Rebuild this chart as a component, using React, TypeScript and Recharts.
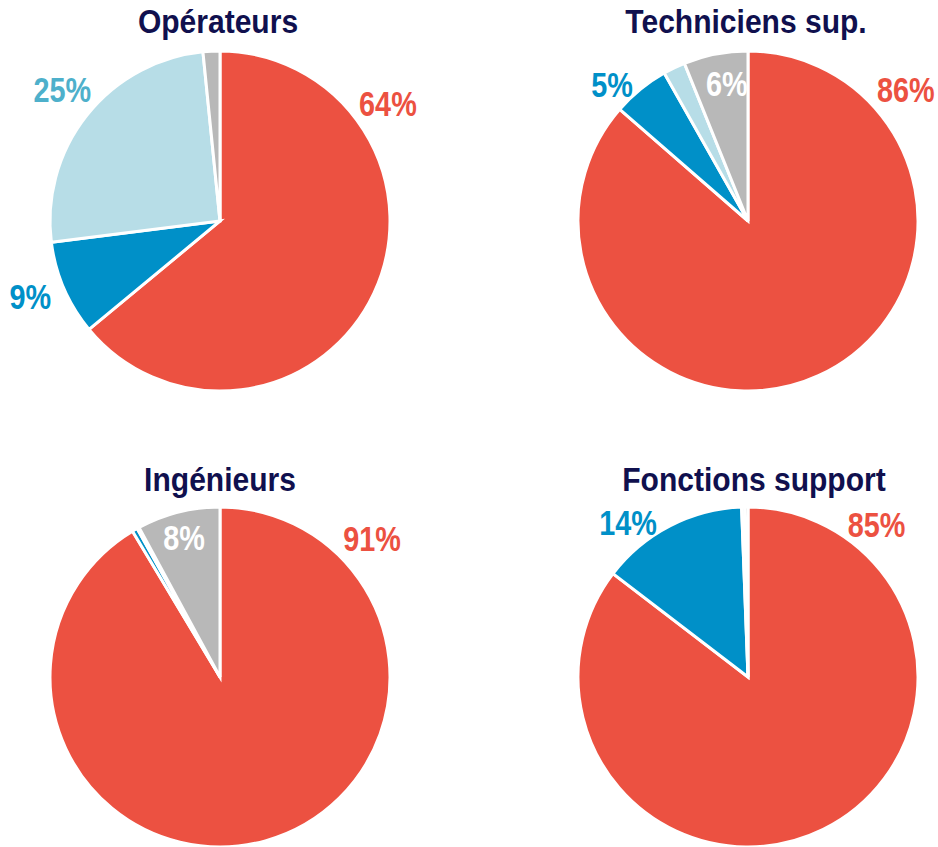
import React from "react";
import { PieChart, Pie, Cell } from "recharts";

const PANEL_TITLES = ["Opérateurs", "Techniciens sup.", "Ingénieurs", "Fonctions support"];
const CATEGORIES = ["Catégorie 1", "Catégorie 2", "Catégorie 3", "Catégorie 4"];
const OPERATEURS = [64, 9, 25.4, 1.6];
const TECHNICIENS = [86.4, 5.4, 2.1, 6.1];
const INGENIEURS = [91.4, 0.5, 0.2, 7.9];
const FONCTIONS = [85.4, 14.0, 0.3, 0.3];

const COLORS = ["#EC5141", "#0090C8", "#B7DDE7", "#B8B8B8"];
const LABEL_COLORS = ["#EC5141", "#0090C8", "#4EB0CB", "#FFFFFF"];
const FONT = "'Liberation Sans', Arial, 'Noto Sans', sans-serif";

// label placement (angle in degrees, radius) per visible label
type LabelPos = { i: number; a: number; r: number };
const LABEL_LAYOUT: LabelPos[][] = [
  [{ i: 0, a: 35, r: 205 }, { i: 1, a: 201.5, r: 204 }, { i: 2, a: 140, r: 206 }],
  [{ i: 0, a: 40, r: 206 }, { i: 1, a: 134.8, r: 193 }, { i: 3, a: 98.7, r: 140 }],
  [{ i: 0, a: 42.4, r: 206 }, { i: 3, a: 104.4, r: 145 }],
  [{ i: 0, a: 50, r: 200 }, { i: 1, a: 127.7, r: 196 }],
];

const PANEL_CENTERS = [
  { cx: 220, cy: 221 },
  { cx: 748, cy: 221 },
  { cx: 220, cy: 677 },
  { cx: 748, cy: 677 },
];
const TITLE_POS = [
  { x: 218, y: 33 },
  { x: 746, y: 33 },
  { x: 220, y: 491 },
  { x: 754, y: 491 },
];

const SERIES = [OPERATEURS, TECHNICIENS, INGENIEURS, FONCTIONS];

function makeData(values: number[]) {
  return values.map((v, i) => ({ name: CATEGORIES[i], value: v }));
}

function makeLabel(panel: number) {
  return (props: any) => {
    const { cx, cy, index, value } = props;
    const pos = LABEL_LAYOUT[panel].find((p) => p.i === index);
    if (!pos) return null;
    const rad = (pos.a * Math.PI) / 180;
    const x = cx + pos.r * Math.cos(rad);
    const y = cy - pos.r * Math.sin(rad);
    return (
      <text
        key={`l-${panel}-${index}`}
        transform={`translate(${x},${y + 13}) scale(0.8,1)`}
        x={0}
        y={0}
        fill={LABEL_COLORS[index]}
        textAnchor="middle"
        fontFamily={FONT}
        fontWeight="bold"
        fontSize={36}
      >
        {`${Math.round(value)}%`}
      </text>
    );
  };
}

export default function App() {
  return (
    <div style={{ position: "absolute", left: 0, top: 0, width: 938, height: 847, background: "#fff" }}>
      <PieChart width={938} height={847} margin={{ top: 0, right: 0, bottom: 0, left: 0 }}>
        {SERIES.map((vals, p) => (
          <Pie
            key={p}
            data={makeData(vals)}
            dataKey="value"
            nameKey="name"
            cx={PANEL_CENTERS[p].cx}
            cy={PANEL_CENTERS[p].cy}
            outerRadius={170}
            innerRadius={0}
            startAngle={90}
            endAngle={-270}
            stroke="#FFFFFF"
            strokeWidth={3}
            isAnimationActive={false}
            labelLine={false}
            label={makeLabel(p)}
          >
            {vals.map((_, i) => (
              <Cell key={i} fill={COLORS[i]} />
            ))}
          </Pie>
        ))}
      </PieChart>
      <svg
        width={938}
        height={847}
        style={{ position: "absolute", left: 0, top: 0, pointerEvents: "none" }}
      >
        {PANEL_TITLES.map((t, p) => (
          <text
            key={t}
            transform={`translate(${TITLE_POS[p].x},${TITLE_POS[p].y}) scale(0.91,1)`}
            x={0}
            y={0}
            textAnchor="middle"
            fontFamily={FONT}
            fontWeight="bold"
            fontSize={33}
            fill="#10104E"
          >
            {t}
          </text>
        ))}
      </svg>
    </div>
  );
}
